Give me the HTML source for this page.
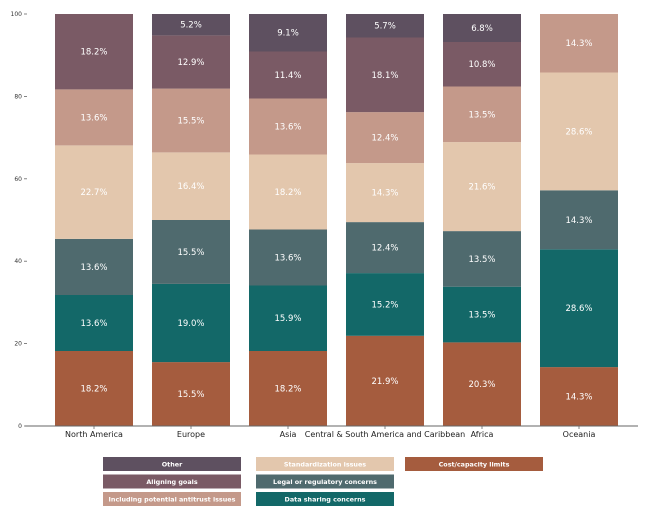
<!DOCTYPE html>
<html><head><meta charset="utf-8"><style>
html,body{margin:0;padding:0;background:#fff;}
svg{display:block;font-family:"DejaVu Sans","Liberation Sans",sans-serif;}
.v{fill:#fff;font-size:8.5px;text-anchor:middle;}
.t{fill:#333;font-size:6px;text-anchor:end;}
.x{fill:#222;font-size:8px;text-anchor:middle;}
.l{fill:#fff;font-size:6.4px;font-weight:bold;text-anchor:middle;}
</style></head><body>
<svg width="650" height="513" viewBox="0 0 650 513">
<g>
<rect x="55" y="351" width="78" height="75" fill="#a55c3e"/>
<rect x="55" y="295" width="78" height="56" fill="#136868"/>
<rect x="55" y="238.9" width="78" height="56.1" fill="#4f6a6e"/>
<rect x="55" y="145.4" width="78" height="93.5" fill="#e3c7ad"/>
<rect x="55" y="89.4" width="78" height="56" fill="#c4998a"/>
<rect x="55" y="14" width="78" height="75.4" fill="#7a5a65"/>
<text class="v" x="94" y="391.5">18.2%</text>
<text class="v" x="94" y="326">13.6%</text>
<text class="v" x="94" y="270">13.6%</text>
<text class="v" x="94" y="195">22.7%</text>
<text class="v" x="94" y="120.4">13.6%</text>
<text class="v" x="94" y="54.7">18.2%</text>
</g>
<g>
<rect x="152" y="362.1" width="78" height="63.9" fill="#a55c3e"/>
<rect x="152" y="283.9" width="78" height="78.2" fill="#136868"/>
<rect x="152" y="220" width="78" height="63.9" fill="#4f6a6e"/>
<rect x="152" y="152.4" width="78" height="67.6" fill="#e3c7ad"/>
<rect x="152" y="88.6" width="78" height="63.8" fill="#c4998a"/>
<rect x="152" y="35.4" width="78" height="53.2" fill="#7a5a65"/>
<rect x="152" y="14" width="78" height="21.4" fill="#5e5060"/>
<text class="v" x="191" y="397">15.5%</text>
<text class="v" x="191" y="326">19.0%</text>
<text class="v" x="191" y="255">15.5%</text>
<text class="v" x="191" y="189.2">16.4%</text>
<text class="v" x="191" y="123.5">15.5%</text>
<text class="v" x="191" y="65">12.9%</text>
<text class="v" x="191" y="27.7">5.2%</text>
</g>
<g>
<rect x="249" y="351" width="78" height="75" fill="#a55c3e"/>
<rect x="249" y="285.5" width="78" height="65.5" fill="#136868"/>
<rect x="249" y="229.5" width="78" height="56" fill="#4f6a6e"/>
<rect x="249" y="154.5" width="78" height="75" fill="#e3c7ad"/>
<rect x="249" y="98.5" width="78" height="56" fill="#c4998a"/>
<rect x="249" y="51.5" width="78" height="47" fill="#7a5a65"/>
<rect x="249" y="14" width="78" height="37.5" fill="#5e5060"/>
<text class="v" x="288" y="391.5">18.2%</text>
<text class="v" x="288" y="321.2">15.9%</text>
<text class="v" x="288" y="260.5">13.6%</text>
<text class="v" x="288" y="195">18.2%</text>
<text class="v" x="288" y="129.5">13.6%</text>
<text class="v" x="288" y="78">11.4%</text>
<text class="v" x="288" y="35.7">9.1%</text>
</g>
<g>
<rect x="346" y="335.8" width="78" height="90.2" fill="#a55c3e"/>
<rect x="346" y="273.1" width="78" height="62.7" fill="#136868"/>
<rect x="346" y="222.1" width="78" height="51" fill="#4f6a6e"/>
<rect x="346" y="163.1" width="78" height="59" fill="#e3c7ad"/>
<rect x="346" y="112.1" width="78" height="51" fill="#c4998a"/>
<rect x="346" y="37.5" width="78" height="74.6" fill="#7a5a65"/>
<rect x="346" y="14" width="78" height="23.5" fill="#5e5060"/>
<text class="v" x="385" y="383.9">21.9%</text>
<text class="v" x="385" y="307.4">15.2%</text>
<text class="v" x="385" y="250.6">12.4%</text>
<text class="v" x="385" y="195.6">14.3%</text>
<text class="v" x="385" y="140.6">12.4%</text>
<text class="v" x="385" y="77.8">18.1%</text>
<text class="v" x="385" y="28.7">5.7%</text>
</g>
<g>
<rect x="443" y="342.4" width="78" height="83.6" fill="#a55c3e"/>
<rect x="443" y="286.7" width="78" height="55.7" fill="#136868"/>
<rect x="443" y="231.1" width="78" height="55.6" fill="#4f6a6e"/>
<rect x="443" y="142.1" width="78" height="89" fill="#e3c7ad"/>
<rect x="443" y="86.5" width="78" height="55.6" fill="#c4998a"/>
<rect x="443" y="42" width="78" height="44.5" fill="#7a5a65"/>
<rect x="443" y="14" width="78" height="28" fill="#5e5060"/>
<text class="v" x="482" y="387.2">20.3%</text>
<text class="v" x="482" y="317.5">13.5%</text>
<text class="v" x="482" y="261.9">13.5%</text>
<text class="v" x="482" y="189.6">21.6%</text>
<text class="v" x="482" y="117.3">13.5%</text>
<text class="v" x="482" y="67.2">10.8%</text>
<text class="v" x="482" y="31">6.8%</text>
</g>
<g>
<rect x="540" y="367.1" width="78" height="58.9" fill="#a55c3e"/>
<rect x="540" y="249.3" width="78" height="117.8" fill="#136868"/>
<rect x="540" y="190.3" width="78" height="59" fill="#4f6a6e"/>
<rect x="540" y="72.5" width="78" height="117.8" fill="#e3c7ad"/>
<rect x="540" y="14" width="78" height="58.5" fill="#c4998a"/>
<text class="v" x="579" y="399.5">14.3%</text>
<text class="v" x="579" y="311.2">28.6%</text>
<text class="v" x="579" y="222.8">14.3%</text>
<text class="v" x="579" y="134.4">28.6%</text>
<text class="v" x="579" y="46.2">14.3%</text>
</g>
<line x1="25" y1="426" x2="638" y2="426" stroke="#666" stroke-width="1"/>
<g stroke="#666" stroke-width="0.8">
<line x1="24" y1="14" x2="27" y2="14"/><line x1="24" y1="96.4" x2="27" y2="96.4"/>
<line x1="24" y1="178.8" x2="27" y2="178.8"/><line x1="24" y1="261.2" x2="27" y2="261.2"/>
<line x1="24" y1="343.6" x2="27" y2="343.6"/><line x1="24" y1="426" x2="27" y2="426"/>
<line x1="94" y1="426" x2="94" y2="429"/><line x1="191" y1="426" x2="191" y2="429"/>
<line x1="288" y1="426" x2="288" y2="429"/><line x1="385" y1="426" x2="385" y2="429"/>
<line x1="482" y1="426" x2="482" y2="429"/><line x1="579" y1="426" x2="579" y2="429"/>
</g>
<text class="t" x="22" y="16">100</text>
<text class="t" x="22" y="98.4">80</text>
<text class="t" x="22" y="180.8">60</text>
<text class="t" x="22" y="263.2">40</text>
<text class="t" x="22" y="345.6">20</text>
<text class="t" x="22" y="428">0</text>
<text class="x" x="94" y="437">North America</text>
<text class="x" x="191" y="437">Europe</text>
<text class="x" x="288" y="437">Asia</text>
<text class="x" x="385" y="437">Central &amp; South America and Caribbean</text>
<text class="x" x="482" y="437">Africa</text>
<text class="x" x="579" y="437">Oceania</text>
<rect x="103" y="457" width="138" height="14" fill="#5e5060"/>
<rect x="103" y="474.5" width="138" height="14" fill="#7a5a65"/>
<rect x="103" y="492" width="138" height="14" fill="#c4998a"/>
<rect x="256" y="457" width="138" height="14" fill="#e3c7ad"/>
<rect x="256" y="474.5" width="138" height="14" fill="#4f6a6e"/>
<rect x="256" y="492" width="138" height="14" fill="#136868"/>
<rect x="405" y="457" width="138" height="14" fill="#a55c3e"/>
<text class="l" x="172" y="466.3">Other</text>
<text class="l" x="172" y="483.8">Aligning goals</text>
<text class="l" x="172" y="501.3">Including potential antitrust issues</text>
<text class="l" x="325" y="466.3">Standardization issues</text>
<text class="l" x="325" y="483.8">Legal or regulatory concerns</text>
<text class="l" x="325" y="501.3">Data sharing concerns</text>
<text class="l" x="474" y="466.3">Cost/capacity limits</text>
</svg>
</body></html>
